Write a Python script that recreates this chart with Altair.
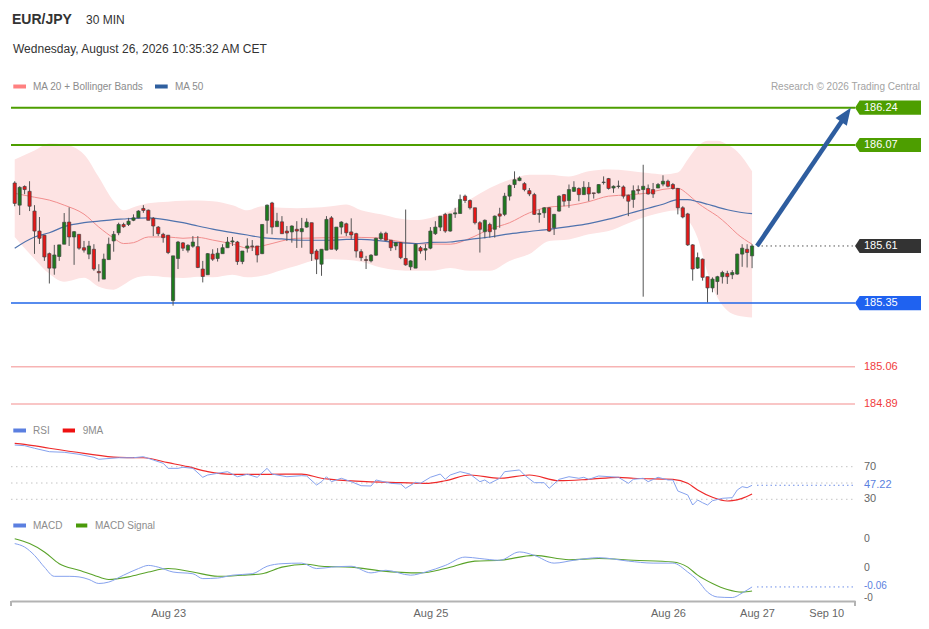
import altair as alt
import pandas as pd

FONT = "Liberation Sans"

# ---------------- EUR/JPY 30-minute candles ----------------
opens = [185.897,185.796,185.881,185.859,185.769,185.678,185.659,185.575,185.509,185.562,
185.618,185.719,185.651,185.663,185.602,185.573,185.595,185.494,185.459,185.548,
185.633,185.670,185.708,185.708,185.727,185.738,185.781,185.773,185.736,185.696,
185.663,185.659,185.361,185.553,185.624,185.591,185.609,185.607,185.505,185.479,
185.573,185.553,185.575,185.602,185.628,185.628,185.539,185.600,185.610,185.610,
185.575,185.727,185.806,185.698,185.720,185.678,185.674,185.686,185.675,185.696,
185.716,185.587,185.527,185.591,185.738,185.595,185.696,185.711,185.674,185.666,
185.584,185.548,185.542,185.568,185.643,185.668,185.636,185.610,185.625,185.553,
185.515,185.509,185.602,185.591,185.600,185.666,185.696,185.754,185.678,185.756,
185.758,185.837,185.817,185.784,185.716,185.675,185.708,185.686,185.756,185.754,
185.837,185.890,185.908,185.894,185.862,185.844,185.754,185.761,185.784,185.693,
185.769,185.844,185.817,185.859,185.872,185.844,185.877,185.852,185.852,185.899,
185.917,185.874,185.881,185.879,185.841,185.822,185.867,185.867,185.872,185.867,
185.874,185.892,185.905,185.890,185.872,185.784,185.756,185.615,185.509,185.550,
185.470,185.419,185.448,185.470,185.485,185.479,185.482,185.573,185.595,185.565]

highs = [185.905,185.882,185.886,185.905,185.796,185.742,185.660,185.580,185.615,185.615,
185.760,185.786,185.678,185.663,185.633,185.633,185.618,185.527,185.575,185.648,
185.678,185.716,185.716,185.738,185.754,185.773,185.796,185.776,185.742,185.701,
185.670,185.659,185.565,185.633,185.628,185.618,185.655,185.655,185.542,185.578,
185.595,185.600,185.618,185.651,185.651,185.633,185.587,185.645,185.637,185.610,
185.708,185.799,185.811,185.761,185.746,185.701,185.704,185.723,185.738,185.736,
185.716,185.595,185.595,185.746,185.746,185.696,185.723,185.716,185.736,185.670,
185.595,185.565,185.573,185.648,185.675,185.675,185.636,185.628,185.628,185.776,
185.545,185.621,185.610,185.618,185.696,185.723,185.746,185.761,185.756,185.784,
185.844,185.844,185.822,185.784,185.723,185.731,185.716,185.749,185.784,185.852,
185.890,185.950,185.927,185.901,185.874,185.852,185.776,185.787,185.787,185.756,
185.841,185.847,185.890,185.905,185.877,185.905,185.901,185.852,185.892,185.927,
185.920,185.886,185.908,185.886,185.844,185.886,185.886,185.980,185.890,185.897,
185.897,185.932,185.912,185.897,185.874,185.791,185.761,185.618,185.580,185.553,
185.470,185.467,185.474,185.497,185.497,185.500,185.575,185.618,185.618,185.618]

lows = [185.791,185.751,185.846,185.769,185.574,185.619,185.542,185.439,185.479,185.542,
185.618,185.610,185.524,185.593,185.580,185.550,185.497,185.448,185.459,185.548,
185.584,185.659,185.693,185.701,185.723,185.736,185.761,185.727,185.655,185.655,
185.625,185.573,185.338,185.505,185.587,185.580,185.602,185.509,185.444,185.479,
185.542,185.539,185.575,185.602,185.610,185.524,185.527,185.580,185.587,185.535,
185.573,185.666,185.663,185.698,185.666,185.633,185.625,185.601,185.602,185.693,
185.542,185.482,185.474,185.591,185.595,185.587,185.663,185.655,185.640,185.557,
185.542,185.505,185.535,185.565,185.637,185.633,185.587,185.591,185.550,185.520,
185.500,185.509,185.575,185.545,185.595,185.660,185.678,185.670,185.675,185.738,
185.758,185.806,185.776,185.708,185.580,185.645,185.648,185.648,185.693,185.746,
185.817,185.874,185.905,185.859,185.837,185.751,185.716,185.738,185.674,185.660,
185.766,185.791,185.784,185.856,185.814,185.844,185.814,185.826,185.849,185.890,
185.867,185.852,185.872,185.826,185.746,185.784,185.847,185.379,185.844,185.829,
185.874,185.882,185.877,185.867,185.754,185.736,185.610,185.452,185.505,185.452,
185.353,185.399,185.388,185.439,185.437,185.459,185.479,185.515,185.512,185.509]

closes = [185.804,185.877,185.867,185.791,185.678,185.645,185.560,185.509,185.569,185.615,
185.718,185.651,185.675,185.600,185.591,185.610,185.505,185.488,185.550,185.618,
185.663,185.708,185.698,185.723,185.738,185.769,185.772,185.727,185.701,185.666,
185.648,185.580,185.565,185.628,185.600,185.613,185.628,185.512,185.471,185.575,
185.550,185.577,185.602,185.628,185.633,185.539,185.587,185.610,185.607,185.569,
185.708,185.796,185.696,185.723,185.666,185.669,185.701,185.678,185.689,185.719,
185.575,185.550,185.595,185.731,185.595,185.696,185.719,185.670,185.660,185.587,
185.557,185.544,185.568,185.645,185.666,185.636,185.602,185.625,185.557,185.524,
185.542,185.618,185.587,185.598,185.678,185.696,185.746,185.678,185.756,185.761,
185.822,185.817,185.784,185.716,185.686,185.727,185.675,185.746,185.746,185.837,
185.886,185.912,185.920,185.867,185.847,185.754,185.758,185.784,185.678,185.754,
185.837,185.814,185.867,185.877,185.844,185.877,185.847,185.849,185.890,185.901,
185.872,185.882,185.883,185.837,185.814,185.862,185.862,185.882,185.847,185.847,
185.890,185.905,185.882,185.872,185.784,185.742,185.615,185.505,185.557,185.467,
185.419,185.459,185.470,185.489,185.470,185.489,185.573,185.600,185.580,185.610]

# ---------------- MA 20 + Bollinger Bands, MA 50 ----------------
ma_idx = [0,4,7,10,14,17,20,22,24,27,31,34,37,40,44,47,50,54,57,60,64,67,70,74,77,81,84,88,92,96,
          100,104,108,112,116,120,124,128,131,134,136,138,140,142,144,146,149]
ma20 = [185.850,185.832,185.819,185.796,185.755,185.696,185.646,185.621,185.625,185.651,
        185.651,185.645,185.649,185.637,185.619,185.601,185.610,185.633,185.645,185.646,
        185.648,185.651,185.649,185.646,185.633,185.621,185.619,185.618,185.645,185.687,
        185.716,185.761,185.787,185.794,185.812,185.837,185.843,185.852,185.868,185.873,
        185.846,185.806,185.775,185.746,185.708,185.665,185.618]
ma50 = [185.600,185.651,185.670,185.698,185.716,185.723,185.730,185.733,185.736,185.738,
        185.728,185.716,185.701,185.687,185.671,185.660,185.648,185.642,185.637,185.636,
        185.636,185.640,185.640,185.633,185.626,185.621,185.626,185.628,185.640,185.651,
        185.665,185.676,185.686,185.698,185.712,185.732,185.757,185.782,185.800,185.821,
        185.821,185.812,185.800,185.787,185.775,185.766,185.757]
bb_upper = [186.004,186.045,186.077,186.072,186.027,185.923,185.814,185.773,185.787,185.805,
            185.812,185.816,185.817,185.814,185.796,185.773,185.791,185.784,185.782,185.784,
            185.791,185.799,185.773,185.754,185.738,185.728,185.738,185.769,185.822,185.874,
            185.912,185.935,185.935,185.927,185.950,185.958,185.953,185.942,185.936,185.945,
            186.004,186.063,186.089,186.089,186.071,186.041,185.950]
bb_lower = [185.651,185.551,185.483,185.447,185.465,185.424,185.411,185.433,185.461,185.474,
            185.467,185.464,185.470,185.467,185.479,185.467,185.474,185.501,185.520,185.542,
            185.550,185.547,185.538,185.512,185.501,185.497,185.497,185.510,185.497,185.497,
            185.542,185.573,185.633,185.640,185.663,185.678,185.714,185.746,185.764,185.773,
            185.732,185.646,185.488,185.375,185.316,185.293,185.284]

# ---------------- RSI + 9MA ----------------
rsi_idx = [0,2,4,7,10,13,16,17,21,24,26,28,30,31,33,34,36,38,39,41,43,45,47,49,51,52,55,58,59,61,
           62,63,64,66,68,70,72,73,76,78,79,81,82,84,86,87,88,90,92,94,95,96,98,99,102,103,105,107,108,110,
           112,114,115,116,118,122,124,125,127,128,130,132,133,134,136,137,138,139,140,141,143,145,146,147,148,149]
rsi_val = [96.6,95.8,92.6,88.4,87.7,85.2,81.5,79.1,81.0,81.0,82.3,78.2,74.2,68.0,68.0,69.3,68.0,57.0,59.8,61.9,
           63.9,57.7,60.7,57.0,68.0,61.0,57.7,59.0,58.6,47.5,51.6,57.7,51.6,55.8,51.6,46.7,46.3,53.7,49.6,48.8,
           43.5,50.9,49.6,57.0,61.0,54.5,59.8,63.9,61.0,51.6,53.7,49.6,55.8,63.9,66.0,59.8,50.4,50.4,43.5,54.5,
           57.7,55.8,57.0,54.5,58.6,57.0,49.6,54.5,55.8,51.6,57.0,53.7,53.7,40.2,35.3,23.0,29.1,25.8,23.0,28.3,
           31.2,32.0,41.4,45.5,44.2,47.22]
rsi_ma_idx = [0,2,7,14,21,26,31,35,39,44,51,58,62,64,71,78,83,87,92,98,104,110,116,122,125,133,136,138,141,144,145,147,149]
rsi_ma_val = [98.7,97.5,92.6,86.4,81.5,81.0,74.9,70.0,63.9,60.7,60.7,61.0,55.8,54.5,51.6,50.4,49.6,52.8,59.8,55.8,
              59.8,52.8,54.5,57.0,55.8,54.5,49.6,41.4,32.5,27.9,28.3,31.2,36.5]

# ---------------- MACD + Signal ----------------
macd_idx = [0,2,4,6,8,11,13,15,17,19,22,25,27,29,32,36,38,41,44,48,51,54,58,61,64,68,72,75,80,83,
            87,91,94,98,102,105,109,113,118,124,129,133,136,138,140,142,145,147,149]
macd_val = [0.085,0.073,0.044,0.003,-0.029,-0.029,-0.031,-0.040,-0.054,-0.049,-0.025,-0.002,0.009,0.003,-0.014,
            -0.020,-0.037,-0.035,-0.025,-0.020,0.006,0.015,0.017,-0.002,0.003,0.006,-0.017,-0.008,-0.025,-0.014,
            0.009,0.038,0.033,0.027,0.056,0.044,0.017,0.027,0.036,0.024,0.017,0.017,-0.014,-0.043,-0.084,
            -0.101,-0.103,-0.087,-0.066]
sig_idx = [0,3,6,9,13,16,19,23,27,31,36,41,46,50,54,59,62,68,74,82,87,93,98,105,112,118,125,133,136,138,141,144,147,149]
sig_val = [0.102,0.085,0.056,0.015,-0.008,-0.025,-0.040,-0.031,-0.014,-0.002,-0.014,-0.029,-0.025,-0.020,0.003,
           0.013,0.006,0.003,-0.010,-0.017,-0.002,0.024,0.027,0.044,0.029,0.033,0.027,0.021,0.003,-0.025,
           -0.054,-0.075,-0.084,-0.080]

# ---------------- levels, labels, ticks ----------------
res_levels = [186.24, 186.07]
res_text = ["186.24", "186.07"]
last_price = [185.61]
last_text = ["185.61"]
sup_level = [185.35]
sup_text = ["185.35"]
low_levels = [185.06, 184.89]
low_text = ["185.06", "184.89"]
arrow_idx = [150, 167.7]
arrow_price = [185.61, 186.198]

rsi_guides = [70, 50, 30]
rsi_ticks = [70, 30]
rsi_tick_text = ["70", "30"]
rsi_last = [47.22]
rsi_last_text = ["47.22"]
macd_ticks = [0.1, 0.0]
macd_tick_text = ["0", "0"]
macd_low_tick = [-0.1]
macd_low_text = ["-0"]
macd_last = [-0.066]
macd_last_text = ["-0.06"]

x_tick_idx = [31, 84, 132, 150, 164]
x_tick_text = ["Aug 23", "Aug 25", "Aug 26", "Aug 27", "Sep 10"]
x_domain = [-0.75, 169.8]

# ---------------- scales ----------------
label_expr = ""
for v, t in zip(x_tick_idx, x_tick_text):
    label_expr += f"datum.value == {v} ? '{t}' : "
label_expr += "''"

x_axis = alt.Axis(values=x_tick_idx, labelExpr=label_expr, title=None, grid=False, ticks=False,
                  domainColor="#b3b3b3", domainWidth=2, labelColor="#666666", labelFontSize=11,
                  labelFont=FONT, labelPadding=6, labelOverlap=False, labelFlush=False)
x_scale = alt.Scale(domain=x_domain, range=[3, 847], nice=False, zero=False, padding=0)
X = alt.X("i:Q", scale=x_scale, axis=x_axis)

p_scale = alt.Scale(domain=[184.89, 186.24], range=[396, 99.7], nice=False, zero=False, padding=0)
r_scale = alt.Scale(domain=[30, 70], range=[491.3, 458.7], nice=False, zero=False, padding=0)
m_scale = alt.Scale(domain=[-0.1, 0.1], range=[588.7, 531.3], nice=False, zero=False, padding=0)


def Y(field, scale):
    return alt.Y(f"{field}:Q", scale=scale, axis=None)


def hrule(values, scale, color, width=1.0, dash=None, x1=3, x2=847):
    kw = dict(color=color, strokeWidth=width)
    if dash:
        kw["strokeDash"] = dash
    return alt.Chart(pd.DataFrame({"v": values})).mark_rule(**kw).encode(
        x=alt.value(x1), x2=alt.value(x2), y=Y("v", scale))


def vtext(values, texts, scale, color, x=856, size=11, dy=0):
    return alt.Chart(pd.DataFrame({"v": values, "t": texts})).mark_text(
        align="left", baseline="middle", color=color, fontSize=size, font=FONT, dy=dy).encode(
        x=alt.value(x), y=Y("v", scale), text="t:N")


TAG = "M-1,0L-0.86,-0.215L1,-0.215L1,0.215L-0.86,0.215Z"


def tag(values, texts, color):
    shape = alt.Chart(pd.DataFrame({"v": values})).mark_point(
        shape=TAG, filled=True, size=4356, color=color, opacity=1, strokeWidth=0).encode(
        x=alt.value(880), y=Y("v", p_scale))
    return [shape, vtext(values, texts, p_scale, "#ffffff")]


def txt(text, x, y, size=10, color="#333333", weight="normal", align="left", baseline="middle"):
    return alt.Chart(pd.DataFrame({"t": [text]})).mark_text(
        align=align, baseline=baseline, fontSize=size, color=color, fontWeight=weight, font=FONT).encode(
        x=alt.value(x), y=alt.value(y), text="t:N")


def swatch(x1, x2, y, color):
    return alt.Chart(pd.DataFrame({"a": [0]})).mark_rule(color=color, strokeWidth=4).encode(
        x=alt.value(x1), x2=alt.value(x2), y=alt.value(y))


# ---------------- data frames ----------------
candles = pd.DataFrame({"i": list(range(len(opens))), "open": opens, "high": highs,
                        "low": lows, "close": closes})
candles["dir"] = ["up" if c >= o else "down" for o, c in zip(opens, closes)]
ma = pd.DataFrame({"i": ma_idx, "ma20": ma20, "ma50": ma50, "up": bb_upper, "lo": bb_lower})
rsi = pd.DataFrame({"i": rsi_idx, "v": rsi_val})
rsi_ma = pd.DataFrame({"i": rsi_ma_idx, "v": rsi_ma_val})
macd = pd.DataFrame({"i": macd_idx, "v": macd_val})
sig = pd.DataFrame({"i": sig_idx, "v": sig_val})
arrow = pd.DataFrame({"i": arrow_idx, "p": arrow_price})

layers = []
# bollinger band
layers.append(alt.Chart(ma).mark_area(color="#fde3e3", opacity=1, interpolate="monotone").encode(
    x=X, y=Y("lo", p_scale), y2="up:Q"))
# level lines
layers.append(hrule(low_levels, p_scale, "#f7b3b3", 1.5))
layers.append(hrule(res_levels, p_scale, "#4d9e00", 2))
layers.append(hrule(sup_level, p_scale, "#1f66e8", 1.5))
# moving averages
layers.append(alt.Chart(ma).mark_line(color="#f28e8e", strokeWidth=1, interpolate="monotone").encode(
    x=X, y=Y("ma20", p_scale)))
layers.append(alt.Chart(ma).mark_line(color="#4f72ad", strokeWidth=1.2, interpolate="monotone").encode(
    x=X, y=Y("ma50", p_scale)))
# candles
layers.append(alt.Chart(candles).mark_rule(color="#555555", strokeWidth=1).encode(
    x=X, y=Y("low", p_scale), y2="high:Q"))
layers.append(alt.Chart(candles).mark_bar(width=3.2, stroke="#444444", strokeWidth=0.7).encode(
    x=X, y=Y("open", p_scale), y2="close:Q",
    color=alt.Color("dir:N", scale=alt.Scale(domain=["up", "down"], range=["#1d7a1d", "#e61717"]),
                    legend=None)))
# last price dotted line
layers.append(hrule(last_price, p_scale, "#555555", 1, dash=[1.5, 3], x1=749))
# arrow
layers.append(alt.Chart(arrow).mark_line(color="#2e5d9f", strokeWidth=4.5, strokeCap="butt").encode(
    x=X, y=Y("p", p_scale)))
layers.append(alt.Chart(arrow.iloc[[1]]).mark_point(
    shape="M0,-1L0.62,0.55L-0.62,0.55Z", filled=True, size=484, angle=34.4,
    color="#2e5d9f", opacity=1, strokeWidth=0).encode(x=X, y=Y("p", p_scale)))
# tags and labels
layers += tag(res_levels, res_text, "#4d9e00")
layers += tag(last_price, last_text, "#333333")
layers += tag(sup_level, sup_text, "#1f62f0")
layers.append(vtext(low_levels, low_text, p_scale, "#f03c3c"))

# RSI panel
layers.append(hrule(rsi_guides, r_scale, "#c4c4c4", 1, dash=[1.5, 3.5]))
layers.append(hrule(rsi_last, r_scale, "#6f8fe8", 1, dash=[1.5, 3], x1=749))
layers.append(alt.Chart(rsi_ma).mark_line(color="#ee2a2a", strokeWidth=1.2, interpolate="monotone").encode(
    x=X, y=Y("v", r_scale)))
layers.append(alt.Chart(rsi).mark_line(color="#86a2ee", strokeWidth=1).encode(x=X, y=Y("v", r_scale)))
layers.append(vtext(rsi_ticks, rsi_tick_text, r_scale, "#666666"))
layers.append(vtext(rsi_last, rsi_last_text, r_scale, "#5b7fe0"))

# MACD panel
layers.append(hrule(macd_last, m_scale, "#6f8fe8", 1, dash=[1.5, 3], x1=749))
layers.append(alt.Chart(sig).mark_line(color="#5aa32a", strokeWidth=1.1, interpolate="monotone").encode(
    x=X, y=Y("v", m_scale)))
layers.append(alt.Chart(macd).mark_line(color="#86a2ee", strokeWidth=1, interpolate="monotone").encode(
    x=X, y=Y("v", m_scale)))
layers.append(vtext(macd_ticks, macd_tick_text, m_scale, "#666666", size=10.5))
layers.append(vtext(macd_low_tick, macd_low_text, m_scale, "#666666", size=10, dy=1.5))
layers.append(vtext(macd_last, macd_last_text, m_scale, "#5b7fe0", size=10, dy=-0.5))

# axis end ticks
layers.append(alt.Chart(pd.DataFrame({"i": x_domain})).mark_rule(color="#b3b3b3", strokeWidth=2).encode(
    x=X, y=alt.value(593), y2=alt.value(598)))

# header and legends
layers.append(txt("EUR/JPY", 4, 16, size=14, weight="bold", baseline="alphabetic"))
layers.append(txt("30 MIN", 78, 15.5, size=12, baseline="alphabetic"))
layers.append(txt("Wednesday, August 26, 2026 10:35:32 AM CET", 5, 44.5, size=12, baseline="alphabetic"))
layers.append(swatch(5.3, 18, 78.5, "#ff8080"))
layers.append(txt("MA 20 + Bollinger Bands", 25, 79, color="#8c8c8c"))
layers.append(swatch(147, 159.7, 78.5, "#2f5f9f"))
layers.append(txt("MA 50", 167, 79, color="#8c8c8c"))
layers.append(txt("Research \u00a9 2026 Trading Central", 912, 79, color="#a3a3a3", align="right"))
layers.append(swatch(5.3, 18, 422.5, "#5b7fe0"))
layers.append(txt("RSI", 25, 423, color="#8c8c8c"))
layers.append(swatch(54.7, 67, 422.5, "#ee1111"))
layers.append(txt("9MA", 74.7, 423, color="#8c8c8c"))
layers.append(swatch(5.3, 18, 517.5, "#5b7fe0"))
layers.append(txt("MACD", 25, 518, color="#8c8c8c"))
layers.append(swatch(68, 79.3, 517.5, "#4a9a0a"))
layers.append(txt("MACD Signal", 87, 518, color="#8c8c8c"))

chart = alt.layer(*layers).resolve_scale(y="independent").properties(
    width=913, height=593,
    padding={"left": 0, "top": 0, "right": 0, "bottom": 20},
    autosize=alt.AutoSizeParams(type="none"),
    background="white",
).configure_view(stroke=None)

chart.save("out.html", embed_options={"renderer": "svg", "actions": False})
